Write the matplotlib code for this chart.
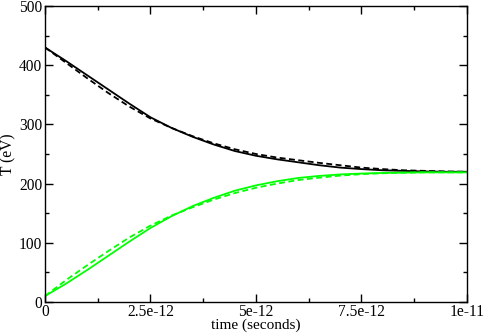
import matplotlib
matplotlib.use("Agg")
import matplotlib.pyplot as plt
from matplotlib.ticker import MultipleLocator, FixedLocator

plt.rcParams['font.family'] = ['Liberation Serif', 'DejaVu Serif']

# time in units of 1e-12 s
t_ps = [0, 0.5, 1.0, 1.5, 2.0, 2.5, 3.0, 3.5, 4.0, 4.5, 5.0,
        5.5, 6.0, 6.5, 7.0, 7.5, 8.0, 8.5, 9.0, 9.5, 10.0]
black_solid = [430, 407, 383, 359, 335, 312, 294, 279, 266, 255, 247,
               241, 236, 231, 227, 224.5, 222.5, 221.5, 220.5, 220, 220]
black_dashed = [430, 404, 378, 353, 330, 310, 294, 280, 268, 258, 250,
                244, 239.5, 235, 231, 227, 224.5, 222.5, 221.5, 220.5, 220]
green_solid = [10, 31, 54, 78, 102, 125, 145, 162, 176, 188, 197,
               204, 209.5, 213, 215.5, 217, 218, 218.5, 219, 219, 219]
green_dashed = [10, 37, 62, 86, 109, 129, 146, 160, 173, 184, 193,
                200, 206, 210, 213.5, 216, 217.5, 218.5, 219, 219, 219]
x_ticks = [0, 2.5e-12, 5e-12, 7.5e-12, 1e-11]
x_tick_labels = ["0", "2.5e-12", "5e-12", "7.5e-12", "1e-11"]
y_ticks = [0, 100, 200, 300, 400, 500]

t = [v * 1e-12 for v in t_ps]

fig = plt.figure(figsize=(4.85, 3.35), dpi=100)
ax = fig.add_axes([45/485, 1 - 302/335, 422/485, 296/335])

lw = 1.3
ax.plot(t, black_solid, color='black', lw=lw)
ax.plot(t, black_dashed, color='black', lw=lw, dashes=(3.3, 1.9))
ax.plot(t, green_solid, color='#00ff00', lw=lw)
ax.plot(t, green_dashed, color='#00ff00', lw=lw, dashes=(3.3, 1.9))

ax.set_xlim(0, 1e-11)
ax.set_ylim(0, 500)
ax.xaxis.set_major_locator(FixedLocator(x_ticks))
ax.set_xticklabels(x_tick_labels)
ax.xaxis.set_minor_locator(MultipleLocator(1.25e-12))
ax.yaxis.set_major_locator(FixedLocator(y_ticks))
ax.yaxis.set_minor_locator(MultipleLocator(50))

fs = 11.2
ax.tick_params(which='both', direction='in', top=True, right=True,
               labelsize=fs, width=1.0)
ax.tick_params(axis='x', which='both', pad=1.8)
ax.tick_params(axis='y', which='both', pad=2)
ax.tick_params(which='major', length=6)
ax.tick_params(which='minor', length=3)
for s in ax.spines.values():
    s.set_linewidth(1.0)

ax.set_xlabel("time (seconds)", fontsize=11)
ax.xaxis.set_label_coords(0.5, (302 - 319) / 296)
ax.set_ylabel("T (eV)", fontsize=fs)
ax.yaxis.set_label_coords((16 - 45) / 422, 0.5)

fig.savefig("out.png", dpi=100)
